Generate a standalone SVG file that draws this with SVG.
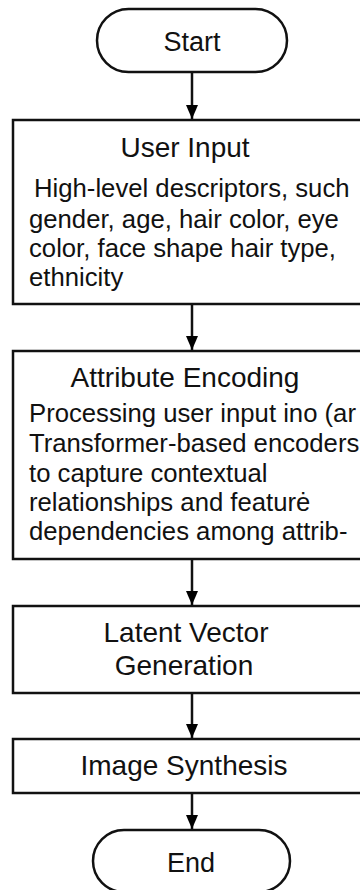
<svg xmlns="http://www.w3.org/2000/svg" width="360" height="890" viewBox="0 0 360 890">
<defs>
<marker id="ah" viewBox="0 0 14 12" refX="14" refY="6" markerWidth="14" markerHeight="12" markerUnits="userSpaceOnUse" orient="auto">
<path d="M0,0 L14,6 L0,12 Z" fill="#000"/>
</marker>
<style>
.box{fill:#fff;stroke:#111;stroke-width:2.5}
.t{font-family:"Liberation Sans",Arial,sans-serif;font-size:28px;fill:#111;text-anchor:middle}
.s{font-size:27px}
.b{font-family:"Liberation Sans",Arial,sans-serif;font-size:25.7px;fill:#111}
.c{stroke:#111;stroke-width:2.5;fill:none;marker-end:url(#ah)}
</style>
</defs>
<rect width="360" height="890" fill="#fff"/>
<g id="connectors">
<line class="c" x1="192" y1="72" x2="192" y2="119"/>
<line class="c" x1="192" y1="304" x2="192" y2="350"/>
<line class="c" x1="192" y1="559" x2="192" y2="605"/>
<line class="c" x1="192" y1="693" x2="192" y2="738"/>
<line class="c" x1="192" y1="793" x2="192" y2="829"/>
</g>
<g id="start">
<rect class="box" x="97" y="9" width="190" height="63" rx="31.5"/>
<text class="t s" x="192" y="51">Start</text>
</g>
<g id="user-input">
<rect class="box" x="13" y="120" width="360" height="184"/>
<text class="t" x="185" y="157">User Input</text>
<text class="b" x="34" y="197">High-level descriptors, such</text>
<text class="b" x="29" y="228">gender, age, hair color, eye</text>
<text class="b" x="29" y="257">color, face shape hair type,</text>
<text class="b" x="29" y="286">ethnicity</text>
</g>
<g id="attribute-encoding">
<rect class="box" x="13" y="351" width="360" height="208"/>
<text class="t" x="185" y="387">Attribute Encoding</text>
<text class="b" x="29" y="422">Processing user input ino (ar</text>
<text class="b" x="29" y="452">Transformer-based encoders</text>
<text class="b" x="29" y="482">to capture contextual</text>
<text class="b" x="29" y="511">relationships and featurė</text>
<text class="b" x="29" y="540">dependencies among attrib-</text>
</g>
<g id="latent-vector">
<rect class="box" x="13" y="606" width="360" height="87"/>
<text class="t" x="186" y="642">Latent Vector</text>
<text class="t" x="184" y="675">Generation</text>
</g>
<g id="image-synthesis">
<rect class="box" x="13" y="739" width="360" height="54"/>
<text class="t" x="184" y="775">Image Synthesis</text>
</g>
<g id="end">
<rect class="box" x="93" y="830" width="197" height="62" rx="31"/>
<text class="t s" x="191" y="872">End</text>
</g>
</svg>
